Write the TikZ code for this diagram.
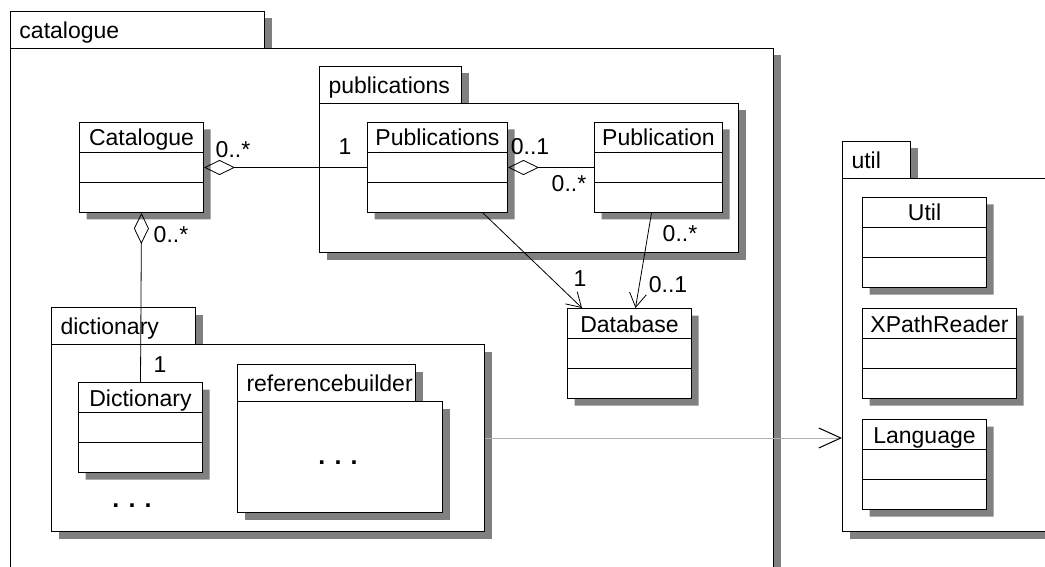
\documentclass[tikz,border=0pt]{standalone}
\usepackage{fontspec}
\setmainfont{Liberation Sans}
\usetikzlibrary{shapes.multipart, shadows, arrows.meta}
\definecolor{shadowgray}{HTML}{808080}

\begin{document}
\begin{tikzpicture}[
  x=1pt, y=-1pt,
  font=\fontsize{23}{27}\selectfont,
  castshadow/.style={general shadow={fill=shadowgray, shadow xshift=7pt, shadow yshift=-7pt}},
  pkgtab/.style={rectangle, draw=black, fill=white, line width=1pt, castshadow,
                 anchor=north west, minimum height=37pt, inner xsep=9pt, inner ysep=0pt,
                 align=left, text height=22pt, text depth=5pt},
  pkgbody/.style={rectangle, draw=black, fill=white, line width=1pt, castshadow,
                  anchor=north west, inner sep=0pt},
  umlclass/.style={rectangle split, rectangle split parts=3, draw=black, fill=white,
                   line width=1pt, castshadow, anchor=north west, inner ysep=3pt,
                   text height=20pt, text depth=3pt,
                   rectangle split empty part height=23pt, rectangle split empty part depth=0pt},
  mult/.style={inner sep=0pt},
  more/.style={inner sep=0pt, font=\fontsize{25}{29}\selectfont\bfseries},
  aggr/.style={{Diamond[open, length=31pt, width=15pt]}-, line width=0.8pt},
  nav/.style={-{Straight Barb[length=14pt, width=17pt]}, line width=0.8pt},
  dep/.style={draw=gray!60, line width=1pt, -{Straight Barb[length=22pt, width=20pt, color=black]}}
]
\useasboundingbox (0,0) rectangle (1045,567);

% packages
\node[pkgtab, minimum width=254pt, text width=236pt] (catalogueTab) at (10,11) {catalogue};
\node[pkgbody, minimum width=763pt, minimum height=600pt] (catalogue) at (10,48) {};
\node[pkgtab, minimum width=142pt, text width=124pt] (publicationsTab) at (319,66) {publications};
\node[pkgbody, minimum width=419pt, minimum height=149pt] (publications) at (319,103) {};
\node[pkgtab, minimum width=144pt, text width=126pt] (dictionaryTab) at (51,307) {dictionary};
\node[pkgbody, minimum width=433pt, minimum height=187pt] (dictionary) at (51,344) {};
\node[pkgtab, minimum width=178pt, text width=160pt] (refbuilderTab) at (237,364) {referencebuilder};
\node[pkgbody, minimum width=205pt, minimum height=111pt] (refbuilder) at (237,401) {};
\node[pkgtab, minimum width=68pt, text width=50pt] (utilTab) at (842,141) {util};
\node[pkgbody, minimum width=250pt, minimum height=353pt] (util) at (842,178) {};

% classes
\node[umlclass, minimum width=124pt] (Catalogue)    at (79,122)  {Catalogue};
\node[umlclass, minimum width=140pt] (Publications) at (367,122) {Publications};
\node[umlclass, minimum width=128pt] (Publication)  at (594,122) {Publication};
\node[umlclass, minimum width=124pt] (Database)     at (567,308) {Database};
\node[umlclass, minimum width=124pt] (Dictionary)   at (78,382)  {Dictionary};
\node[umlclass, minimum width=124pt] (Util)         at (862,197) {Util};
\node[umlclass, minimum width=154pt] (XPathReader)  at (862,308) {XPathReader};
\node[umlclass, minimum width=124pt] (Language)     at (862,419) {Language};

\node[more] (dictMore) at (132,506) {. . .};
\node[more] (refMore)  at (338,463) {. . .};

% associations
\draw[aggr] (Catalogue.east)    -- (Publications.west);
\draw[aggr] (Catalogue.south)   -- (Dictionary.north);
\draw[aggr] (Publications.east) -- (Publication.west);
\draw[nav] ([xshift=-25pt]Publications.south east) -- ([xshift=15pt]Database.north west);
\draw[nav] ([xshift=-7pt]Publication.south) -- ([xshift=6pt]Database.north);
% dependency dictionary -> util
\draw[dep] (dictionary.east) -- (dictionary.east -| util.west);

% multiplicities
\node[mult] (mCatPubs)  at (233,150) {0..*};
\node[mult] (mPubsCat)  at (345,147) {1};
\node[mult] (mPubsPub)  at (530,147) {0..1};
\node[mult] (mPubPubs)  at (569,184) {0..*};
\node[mult] (mPubDb)    at (680,234) {0..*};
\node[mult] (mDbPub)    at (668,285) {0..1};
\node[mult] (mDbPubs)   at (580,279) {1};
\node[mult] (mCatDict)  at (171,235) {0..*};
\node[mult] (mDictCat)  at (160,365) {1};
\end{tikzpicture}
\end{document}
